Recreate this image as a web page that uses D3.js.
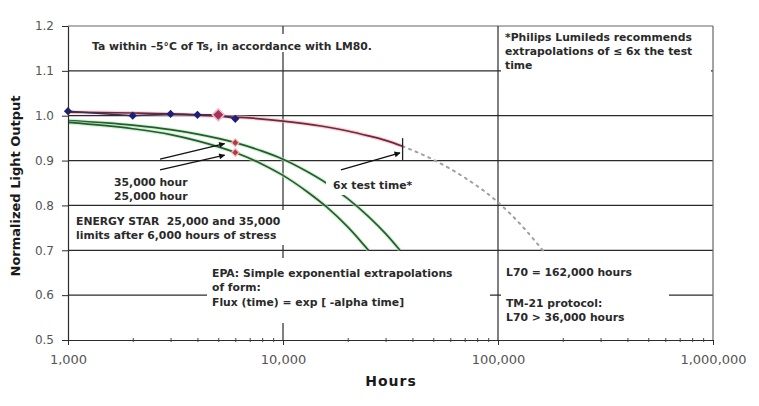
<!DOCTYPE html>
<html>
<head>
<meta charset="utf-8">
<script src="https://cdn.jsdelivr.net/npm/d3@7"></script>
<style>
  html, body { margin: 0; padding: 0; background: #fff; }
  svg { display: block; }
  text { font-family: "DejaVu Sans", sans-serif; }
</style>
</head>
<body>
<svg id="chart" width="759" height="406"></svg>
<script>
// ---------- data ----------
const xMajor = [1000, 10000, 100000, 1000000];
const xMajorLabels = ["1,000", "10,000", "100,000", "1,000,000"];
const yTicks = [0.5, 0.6, 0.7, 0.8, 0.9, 1.0, 1.1, 1.2];
const yTickLabels = ["0.5", "0.6", "0.7", "0.8", "0.9", "1.0", "1.1", "1.2"];
const yGrid = [0.6, 0.7, 0.8, 0.9, 1.0, 1.1, 1.2];
const xGrid = [10000, 100000, 1000000];

// measured LM-80 data
const measuredHours = [1000, 2000, 3000, 4000, 5000, 6000];
const measuredFlux  = [1.010, 1.000, 1.004, 1.002, 1.002, 0.993];
const highlightHours = [5000];
const highlightFlux  = [1.002];

// exponential fit up to 6x test time
const fitHours = [1000, 2000, 3000, 5000, 7000, 10000, 15000, 20000, 25000, 30000, 36000];
const fitFlux  = [1.008, 1.006, 1.004, 0.999, 0.995, 0.988, 0.977, 0.966, 0.955, 0.945, 0.932];

// dotted extrapolation to L70
const extrapHours = [36000, 50000, 70000, 100000, 130000, 162000];
const extrapFlux  = [0.932, 0.902, 0.862, 0.807, 0.753, 0.699];

// ENERGY STAR limit curves
const es35Hours = [1000, 2000, 3000, 4000, 6000, 8000, 10000, 13000, 16000, 20000, 25000, 30000, 35000];
const es35Flux  = [0.989, 0.979, 0.969, 0.959, 0.940, 0.921, 0.903, 0.875, 0.849, 0.815, 0.775, 0.737, 0.700];
const es25Hours = [1000, 2000, 3000, 4000, 6000, 8000, 10000, 13000, 16000, 20000, 23000, 25000];
const es25Flux  = [0.985, 0.971, 0.958, 0.944, 0.918, 0.892, 0.867, 0.830, 0.796, 0.752, 0.720, 0.700];
const limitMarkHours = [6000, 6000];
const limitMarkFlux  = [0.940, 0.918];

// annotation arrows (data units): [fromHours, fromFlux, toHours, toFlux]
const arrows = [
  [2680, 0.903, 5350, 0.938],
  [2680, 0.879, 5350, 0.912],
  [18600, 0.879, 35000, 0.917]
];
const testTimeMarkHours = 36000;
const testTimeMarkFlux = [0.950, 0.899];

// ---------- layout ----------
const svg = d3.select("#chart");
const x = d3.scaleLog().domain([1000, 1000000]).range([68, 713]);
const y = d3.scaleLinear().domain([0.5, 1.2]).range([340, 26]);
const gridColor = "#2b2b2b";

// defs: arrowhead
svg.append("defs").append("marker")
  .attr("id", "arrow").attr("viewBox", "0 0 10 10")
  .attr("refX", 9).attr("refY", 5)
  .attr("markerWidth", 7).attr("markerHeight", 6)
  .attr("markerUnits", "userSpaceOnUse")
  .attr("orient", "auto")
  .append("path").attr("d", "M0,0 L10,5 L0,10 z").attr("fill", "#111");

// horizontal gridlines
svg.append("g").selectAll("line").data(yGrid).join("line")
  .attr("x1", x(1000)).attr("x2", x(1000000))
  .attr("y1", d => y(d)).attr("y2", d => y(d))
  .attr("stroke", (d) => d === 1.2 ? "#666" : gridColor).attr("stroke-width", 1.2);

// vertical gridlines
svg.append("g").selectAll("line").data(xGrid).join("line")
  .attr("x1", d => x(d)).attr("x2", d => x(d))
  .attr("y1", y(1.2)).attr("y2", y(0.5))
  .attr("stroke", d => d === 1000000 ? "#666" : gridColor).attr("stroke-width", 1.2);

// line generator
const line = d3.line().x(d => x(d[0])).y(d => y(d[1])).curve(d3.curveMonotoneX);
const zip = (a, b) => a.map((v, i) => [v, b[i]]);

// ENERGY STAR curves (halo + line)
[[es35Hours, es35Flux], [es25Hours, es25Flux]].forEach(([h, f]) => {
  svg.append("path").attr("d", line(zip(h, f)))
    .attr("fill", "none").attr("stroke", "#b5e8b5").attr("stroke-width", 4).attr("opacity", 0.6);
  svg.append("path").attr("d", line(zip(h, f)))
    .attr("fill", "none").attr("stroke", "#245c30").attr("stroke-width", 1.7);
});

// dotted extrapolation
svg.append("path").attr("d", line(zip(extrapHours, extrapFlux)))
  .attr("fill", "none").attr("stroke", "#a0a0a0").attr("stroke-width", 2)
  .attr("stroke-dasharray", "2,5").attr("stroke-linecap", "round");

// fit curve (halo + line)
svg.append("path").attr("d", line(zip(fitHours, fitFlux)))
  .attr("fill", "none").attr("stroke", "#f2b4c2").attr("stroke-width", 4).attr("opacity", 0.6);
svg.append("path").attr("d", line(zip(fitHours, fitFlux)))
  .attr("fill", "none").attr("stroke", "#72283a").attr("stroke-width", 1.7);

// measured line
svg.append("path").attr("d", d3.line().x(d => x(d[0])).y(d => y(d[1]))(zip(measuredHours, measuredFlux)))
  .attr("fill", "none").attr("stroke", "#3a2f55").attr("stroke-width", 1.4);

// test-time vertical mark
svg.append("line")
  .attr("x1", x(testTimeMarkHours)).attr("x2", x(testTimeMarkHours))
  .attr("y1", y(testTimeMarkFlux[0])).attr("y2", y(testTimeMarkFlux[1]))
  .attr("stroke", "#222").attr("stroke-width", 1.3);

// markers
const diamond = (s) => d3.symbol(d3.symbolSquare, s)();
svg.append("g").selectAll("path").data(zip(measuredHours, measuredFlux)).join("path")
  .attr("d", diamond(34))
  .attr("transform", d => `translate(${x(d[0])},${y(d[1])}) rotate(45)`)
  .attr("fill", "#1d1f78");
svg.append("g").selectAll("path").data(zip(highlightHours, highlightFlux)).join("path")
  .attr("d", diamond(72))
  .attr("transform", d => `translate(${x(d[0])},${y(d[1])}) rotate(45)`)
  .attr("fill", "#a3335a").attr("stroke", "#f2b8c8").attr("stroke-width", 1.5);
svg.append("g").selectAll("path").data(zip(limitMarkHours, limitMarkFlux)).join("path")
  .attr("d", diamond(30))
  .attr("transform", d => `translate(${x(d[0])},${y(d[1])}) rotate(45)`)
  .attr("fill", "#b23a44").attr("stroke", "#f4b8b8").attr("stroke-width", 1.2);

// text boxes (white backgrounds that interrupt the grid)
const boxes = [
  [88, 34, 292, 18],     // Ta within
  [501, 28, 210, 50],    // Philips
  [110, 172, 80, 31],    // 35,000 / 25,000 hour
  [72, 210, 220, 35],    // ENERGY STAR
  [326, 177, 96, 18],    // 6x test time
  [207, 258, 283, 65],   // EPA
  [501, 258, 168, 74]    // L70 / TM-21
];
svg.append("g").selectAll("rect").data(boxes).join("rect")
  .attr("x", d => d[0]).attr("y", d => d[1]).attr("width", d => d[2]).attr("height", d => d[3])
  .attr("fill", "#fff");

// arrows
svg.append("g").selectAll("line").data(arrows).join("line")
  .attr("x1", d => x(d[0])).attr("y1", d => y(d[1]))
  .attr("x2", d => x(d[2])).attr("y2", d => y(d[3]))
  .attr("stroke", "#111").attr("stroke-width", 1.3)
  .attr("marker-end", "url(#arrow)");

// annotation texts
const notes = [
  [92, 50, "Ta within \u20135\u00b0C of Ts, in accordance with LM80."],
  [505, 41, "*Philips Lumileds recommends"],
  [505, 55, "extrapolations of \u2264 6x the test"],
  [505, 68.5, "time"],
  [114, 186, "35,000 hour"],
  [114, 200, "25,000 hour"],
  [76, 225, "ENERGY STAR  25,000 and 35,000"],
  [76, 239, "limits after 6,000 hours of stress"],
  [333, 189, "6x test time*"],
  [212, 276.5, "EPA: Simple exponential extrapolations"],
  [212, 291, "of form:"],
  [212, 306, "Flux (time) = exp [ -alpha time]"],
  [506, 275.5, "L70 = 162,000 hours"],
  [506, 306.5, "TM-21 protocol:"],
  [506, 321, "L70 > 36,000 hours"]
];
svg.append("g").selectAll("text").data(notes).join("text")
  .attr("x", d => d[0]).attr("y", d => d[1])
  .attr("font-size", 10.8).attr("font-weight", "bold").attr("fill", "#2a2a2a")
  .attr("xml:space", "preserve")
  .style("white-space", "pre")
  .text(d => d[2]);

// y axis
const yAxis = d3.axisLeft(y).tickValues(yTicks)
  .tickFormat((d, i) => yTickLabels[i]).tickSizeInner(6).tickSizeOuter(0).tickPadding(8);
const gy = svg.append("g").attr("transform", `translate(${x(1000)},0)`).call(yAxis);
gy.select(".domain").attr("stroke", gridColor).attr("stroke-width", 1.2);
gy.selectAll(".tick line").attr("stroke", gridColor);
gy.selectAll("text").attr("font-size", 12).attr("fill", "#555")
  .attr("font-family", "DejaVu Sans");

// x axis major
const xAxis = d3.axisBottom(x).tickValues(xMajor)
  .tickFormat((d, i) => xMajorLabels[i]).tickSizeInner(5).tickSizeOuter(0).tickPadding(10);
const gx = svg.append("g").attr("transform", `translate(0,${y(0.5)})`).call(xAxis);
gx.select(".domain").attr("stroke", gridColor).attr("stroke-width", 1.2);
gx.selectAll(".tick line").attr("stroke", gridColor);
gx.selectAll("text").attr("font-size", 13).attr("fill", "#555")
  .attr("font-family", "DejaVu Sans");

// x axis minor ticks
const minor = x.ticks().filter(v => !xMajor.includes(v));
const gm = svg.append("g").attr("transform", `translate(0,${y(0.5)})`)
  .call(d3.axisBottom(x).tickValues(minor).tickFormat("").tickSizeInner(2).tickSizeOuter(0));
gm.select(".domain").remove();
gm.selectAll(".tick line").attr("y1", -2).attr("stroke", "#444");

// axis titles
svg.append("text").attr("x", 391).attr("y", 386).attr("text-anchor", "middle")
  .attr("font-size", 14).attr("font-weight", "bold").attr("letter-spacing", 1).attr("fill", "#1a1a1a")
  .text("Hours");
svg.append("text").attr("transform", "translate(20,186) rotate(-90)").attr("text-anchor", "middle")
  .attr("font-size", 13).attr("font-weight", "bold").attr("fill", "#1a1a1a")
  .text("Normalized Light Output");
</script>
</body>
</html>
